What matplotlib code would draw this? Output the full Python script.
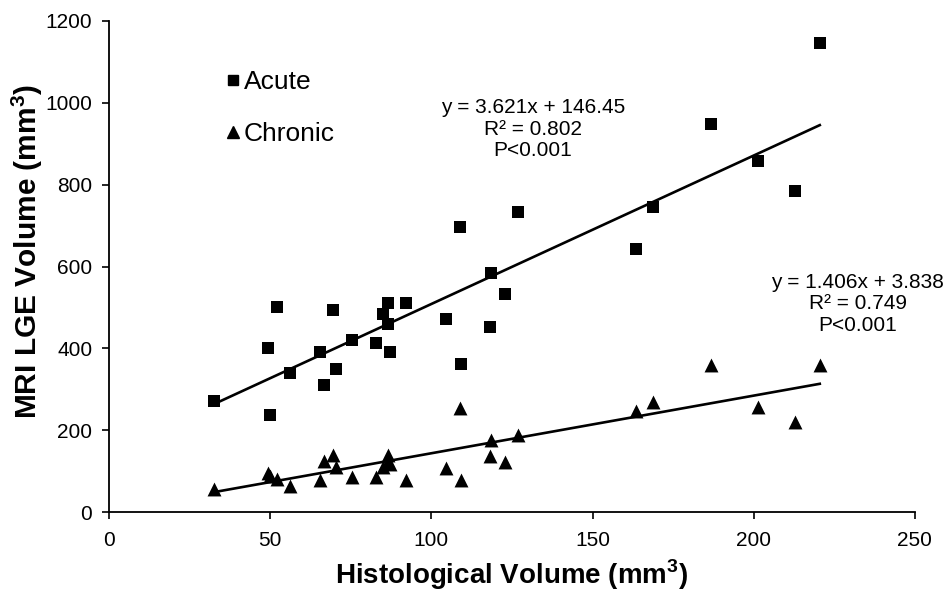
import matplotlib
matplotlib.use("Agg")
import matplotlib.pyplot as plt
import numpy as np
from matplotlib.lines import Line2D

plt.rcParams['font.family'] = ['Liberation Sans', 'DejaVu Sans']
plt.rcParams['mathtext.fontset'] = 'custom'
plt.rcParams['mathtext.rm'] = 'Liberation Sans'
plt.rcParams['mathtext.bf'] = 'Liberation Sans:bold'

# Data
histo_volume = [32.5, 49.3, 49.8, 52.0, 56.2, 65.5, 66.7, 69.4, 70.3, 75.3,
                82.8, 84.9, 86.7, 86.7, 87.2, 92.1, 104.6, 108.8, 109.3, 118.1,
                118.6, 122.8, 126.9, 163.5, 168.9, 186.7, 201.4, 212.8, 220.5]
acute_mri = [271, 400, 238, 502, 339, 392, 311, 494, 349, 421,
             414, 483, 512, 460, 391, 512, 472, 696, 361, 452,
             585, 533, 732, 643, 746, 947, 857, 784, 1145]
chronic_mri = [57, 96, 90, 81, 65, 78, 126, 140, 110, 86,
               87, 112, 140, 124, 118, 79, 108, 256, 78, 138,
               177, 124, 189, 248, 270, 360, 258, 220, 360]

acute_fit = (3.621, 146.45)
chronic_fit = (1.406, 3.838)
acute_text = "y = 3.621x + 146.45\nR² = 0.802\nP<0.001"
chronic_text = "y = 1.406x + 3.838\nR² = 0.749\nP<0.001"

x_ticks = [0, 50, 100, 150, 200, 250]
y_ticks = [0, 200, 400, 600, 800, 1000, 1200]

fig = plt.figure(figsize=(9.52, 5.95), dpi=100)
ax = fig.add_axes([0.1145, 0.1387, 0.8465, 0.8268])

ax.scatter(histo_volume, acute_mri, marker='s', s=8.5**2, color='black',
           linewidths=0, zorder=3)
ax.scatter(histo_volume, chronic_mri, marker='^', s=10**2, color='black',
           linewidths=0, zorder=3)

xs = np.array([min(histo_volume), max(histo_volume)])
ax.plot(xs, acute_fit[0] * xs + acute_fit[1], color='black', lw=1.9, zorder=2)
ax.plot(xs, chronic_fit[0] * xs + chronic_fit[1], color='black', lw=1.9, zorder=2)

ax.text(131.5, 1010, acute_text, ha='center', va='top', fontsize=15,
        linespacing=1.15, multialignment='center')
ax.text(232.3, 584, chronic_text, ha='center', va='top', fontsize=15,
        linespacing=1.15, multialignment='center')

ax.set_xlim(0, 250)
ax.set_ylim(0, 1200)
ax.set_xticks(x_ticks)
ax.set_yticks(y_ticks)
ax.tick_params(axis='both', direction='out', length=5, width=1.2,
               labelsize=15, pad=7)
ax.tick_params(axis='x', pad=8)
for s in ['top', 'right']:
    ax.spines[s].set_visible(False)
for s in ['left', 'bottom']:
    ax.spines[s].set_linewidth(1.3)

ax.set_xlabel(r'Histological Volume (mm$^\mathbf{3}$)', fontsize=20,
              fontweight='bold', labelpad=6)
ax.set_ylabel(r'MRI LGE Volume (mm$^\mathbf{3}$)', fontsize=21.5,
              fontweight='bold', labelpad=1)
ax.yaxis.set_label_coords(-0.079, 0.531)

handles = [Line2D([], [], marker='s', color='black', ls='none', markersize=7),
           Line2D([], [], marker='^', color='black', ls='none', markersize=8)]
ax.legend(handles, ['Acute', 'Chronic'], loc='upper left',
          bbox_to_anchor=(0.125, 0.92), frameon=False, fontsize=19,
          handletextpad=-0.1, labelspacing=1.05, handlelength=1.0,
          borderaxespad=0)

fig.savefig('out.png', dpi=100)
